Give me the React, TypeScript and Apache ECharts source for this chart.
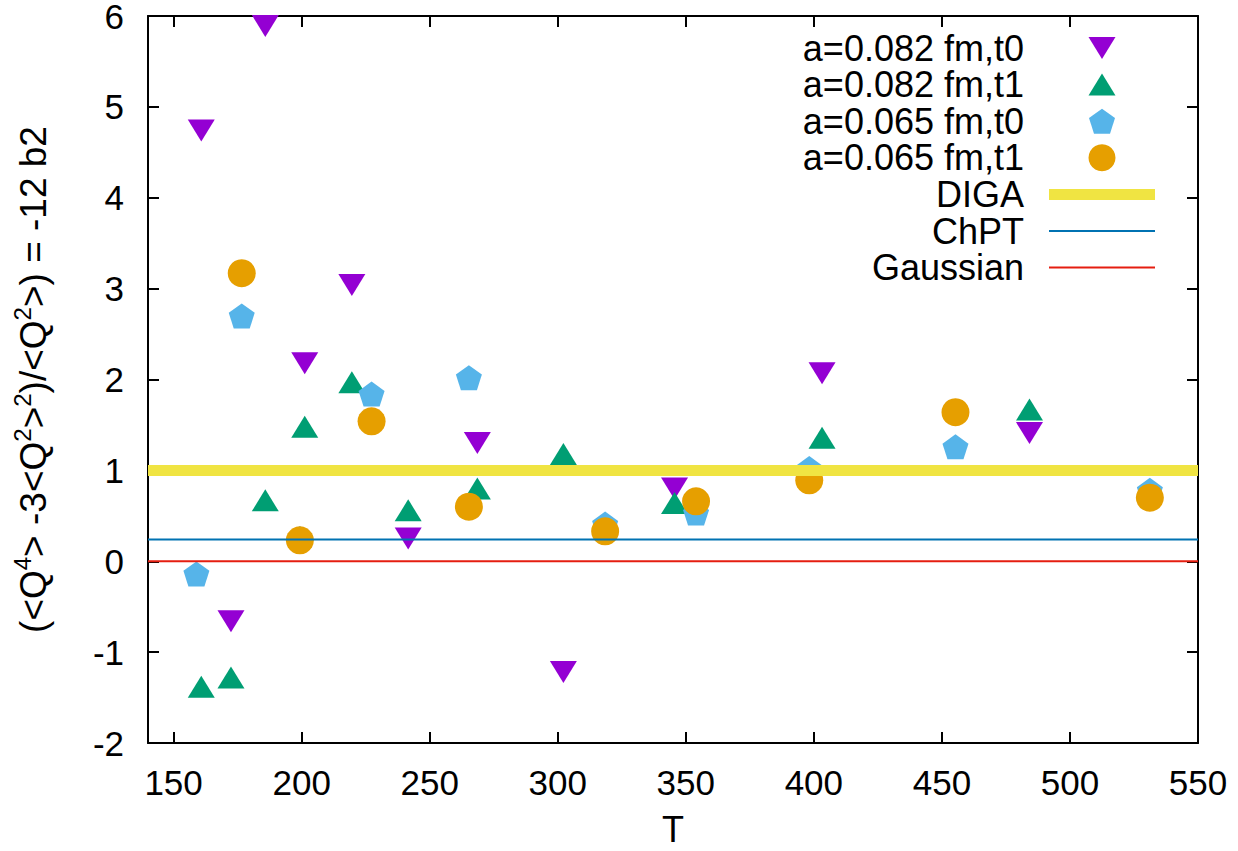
import React, { useEffect, useRef } from "react";
import * as echarts from "echarts";

// ---- data ----
const tempsA082 = [160.8, 172.4, 185.8, 201.2, 219.6, 241.6, 268.6, 302.2, 345.6, 403.2, 484.2];
const a082t0 = [4.74, -0.66, 5.89, 2.18, 3.04, 0.25, 1.30, -1.22, 0.80, 2.07, 1.41];
const a082t1 = [-1.38, -1.28, 0.67, 1.48, 1.97, 0.56, 0.80, 1.18, 0.64, 1.36, 1.67];

const tempsA065t0 = [158.9, 176.6, 199.3, 227.3, 265.3, 318.5, 354.0, 398.2, 455.3, 531.2];
const a065t0 = [-0.14, 2.70, 0.25, 1.84, 2.02, 0.41, 0.53, 1.02, 1.26, 0.78];
const tempsA065t1 = [176.6, 199.3, 227.3, 265.3, 318.5, 354.0, 398.2, 455.3, 531.2];
const a065t1 = [3.17, 0.23, 1.54, 0.60, 0.33, 0.66, 0.89, 1.64, 0.70];

const xRange = [140, 550];
const xTicks = [150, 200, 250, 300, 350, 400, 450, 500, 550];
const digaValue = 1.0;
const chptValue = 0.24;
const gaussianValue = 0.0;

const seriesNames = [
  "a=0.082 fm,t0",
  "a=0.082 fm,t1",
  "a=0.065 fm,t0",
  "a=0.065 fm,t1",
  "DIGA",
  "ChPT",
  "Gaussian",
];

const FONT = "Liberation Sans, Arial, Helvetica, sans-serif";

// marker shapes
const triDown = "path://M0,0 L27,0 L13.5,22 Z";
const triUp = "path://M13.5,0 L27,22 L0,22 Z";
const pentagon = "path://M13,0 L26,9.4 L21,25 L5,25 L0,9.4 Z";
// legend icons (padded to a 27px-high box)
const PAD = "M0,0 L0,0 M0,27 L0,27 ";
const legTriDown = "path://" + PAD + "M0,2.5 L27,2.5 L13.5,24.5 Z";
const legTriUp = "path://" + PAD + "M13.5,2.5 L27,24.5 L0,24.5 Z";
const legPent = "path://" + PAD + "M13,1 L26,10.4 L21,26 L5,26 L0,10.4 Z";
const legThick = "path://" + PAD + "M0,8 L106,8 L106,19 L0,19 Z";
const legThin = "path://" + PAD + "M0,12.5 L106,12.5 L106,14.5 L0,14.5 Z";

const zip = (xs: number[], ys: number[]) => xs.map((x, i) => [x, ys[i]]);
const hline = (v: number) => [
  [xRange[0], v],
  [xRange[1], v],
];

export default function App() {
  const ref = useRef<HTMLDivElement>(null);
  useEffect(() => {
    if (!ref.current) return;
    const chart = echarts.init(ref.current, null, { renderer: "svg" });
    const axisLine = { show: true, onZero: false, lineStyle: { color: "#000", width: 2 } };
    const tickStyle = { show: true, inside: true, length: 11, lineStyle: { color: "#000", width: 2 } };
    chart.setOption({
      animation: false,
      backgroundColor: "#fff",
      textStyle: { fontFamily: FONT },
      grid: {
        left: 148,
        right: 40,
        top: 16,
        bottom: 108,
        containLabel: false,
        outerBoundsMode: "none",
      },
      legend: {
        orient: "vertical",
        right: 78,
        top: 25,
        align: "right",
        itemWidth: 106,
        itemHeight: 27,
        itemGap: 0.6,
        symbolKeepAspect: true,
        textStyle: {
          fontFamily: FONT,
          fontSize: 36,
          color: "#000",
          lineHeight: 36,
          padding: [0, 20, 0, 0],
        },
        data: [
          { name: seriesNames[0], icon: legTriDown },
          { name: seriesNames[1], icon: legTriUp },
          { name: seriesNames[2], icon: legPent },
          { name: seriesNames[3], icon: "circle" },
          { name: seriesNames[4], icon: legThick },
          { name: seriesNames[5], icon: legThin },
          { name: seriesNames[6], icon: legThin },
        ],
      },
      xAxis: [
        {
          type: "value",
          position: "bottom",
          min: xRange[0],
          max: xRange[1],
          name: "T",
          nameLocation: "middle",
          nameGap: 71,
          nameTextStyle: { fontFamily: FONT, fontSize: 36, lineHeight: 30, color: "#000" },
          axisLine,
          axisTick: { ...tickStyle, customValues: xTicks },
          axisLabel: {
            customValues: xTicks,
            fontFamily: FONT,
            fontSize: 35,
            color: "#000",
            margin: 22,
          },
          splitLine: { show: false },
        },
        {
          type: "value",
          position: "top",
          min: xRange[0],
          max: xRange[1],
          axisLine,
          axisTick: { ...tickStyle, customValues: xTicks },
          axisLabel: { show: false, customValues: xTicks },
          splitLine: { show: false },
        },
      ],
      yAxis: [
        {
          type: "value",
          position: "left",
          min: -2,
          max: 6,
          interval: 1,
          name: "(<Q{s|4}> -3<Q{s|2}>{s|2})/<Q{s|2}>) = -12 b2",
          nameLocation: "middle",
          nameGap: 92,
          nameTextStyle: {
            fontFamily: FONT,
            fontSize: 37,
            color: "#000",
            rich: {
              s: { fontFamily: FONT, fontSize: 24, color: "#000", padding: [0, 0, 22, 0] },
            },
          },
          axisLine,
          axisTick: tickStyle,
          axisLabel: { fontFamily: FONT, fontSize: 35, color: "#000", margin: 24 },
          splitLine: { show: false },
        },
        {
          type: "value",
          position: "right",
          min: -2,
          max: 6,
          interval: 1,
          axisLine,
          axisTick: tickStyle,
          axisLabel: { show: false },
          splitLine: { show: false },
        },
      ],
      series: [
        {
          name: seriesNames[0],
          type: "scatter",
          data: zip(tempsA082, a082t0),
          symbol: triDown,
          symbolSize: [27, 22],
          itemStyle: { color: "#9400d3", opacity: 1 },
          z: 2,
        },
        {
          name: seriesNames[1],
          type: "scatter",
          data: zip(tempsA082, a082t1),
          symbol: triUp,
          symbolSize: [27, 22],
          itemStyle: { color: "#009e73", opacity: 1 },
          z: 2,
        },
        {
          name: seriesNames[2],
          type: "scatter",
          data: zip(tempsA065t0, a065t0),
          symbol: pentagon,
          symbolSize: [26, 25],
          itemStyle: { color: "#56b4e9", opacity: 1 },
          z: 2,
        },
        {
          name: seriesNames[3],
          type: "scatter",
          data: zip(tempsA065t1, a065t1),
          symbol: "circle",
          symbolSize: 28,
          itemStyle: { color: "#e69f00", opacity: 1 },
          z: 2,
        },
        {
          name: seriesNames[4],
          type: "line",
          data: hline(digaValue),
          symbol: "none",
          lineStyle: { color: "#f0e442", width: 11 },
          itemStyle: { color: "#f0e442" },
          z: 3,
        },
        {
          name: seriesNames[5],
          type: "line",
          data: hline(chptValue),
          symbol: "none",
          lineStyle: { color: "#0072b2", width: 2 },
          itemStyle: { color: "#0072b2" },
          z: 3,
        },
        {
          name: seriesNames[6],
          type: "line",
          data: hline(gaussianValue),
          symbol: "none",
          lineStyle: { color: "#e51e10", width: 2 },
          itemStyle: { color: "#e51e10" },
          z: 3,
        },
      ],
    });
    return () => chart.dispose();
  }, []);
  return (
    <div
      ref={ref}
      style={{ position: "fixed", left: 0, top: 0, width: 1238, height: 851, background: "#fff" }}
    />
  );
}
